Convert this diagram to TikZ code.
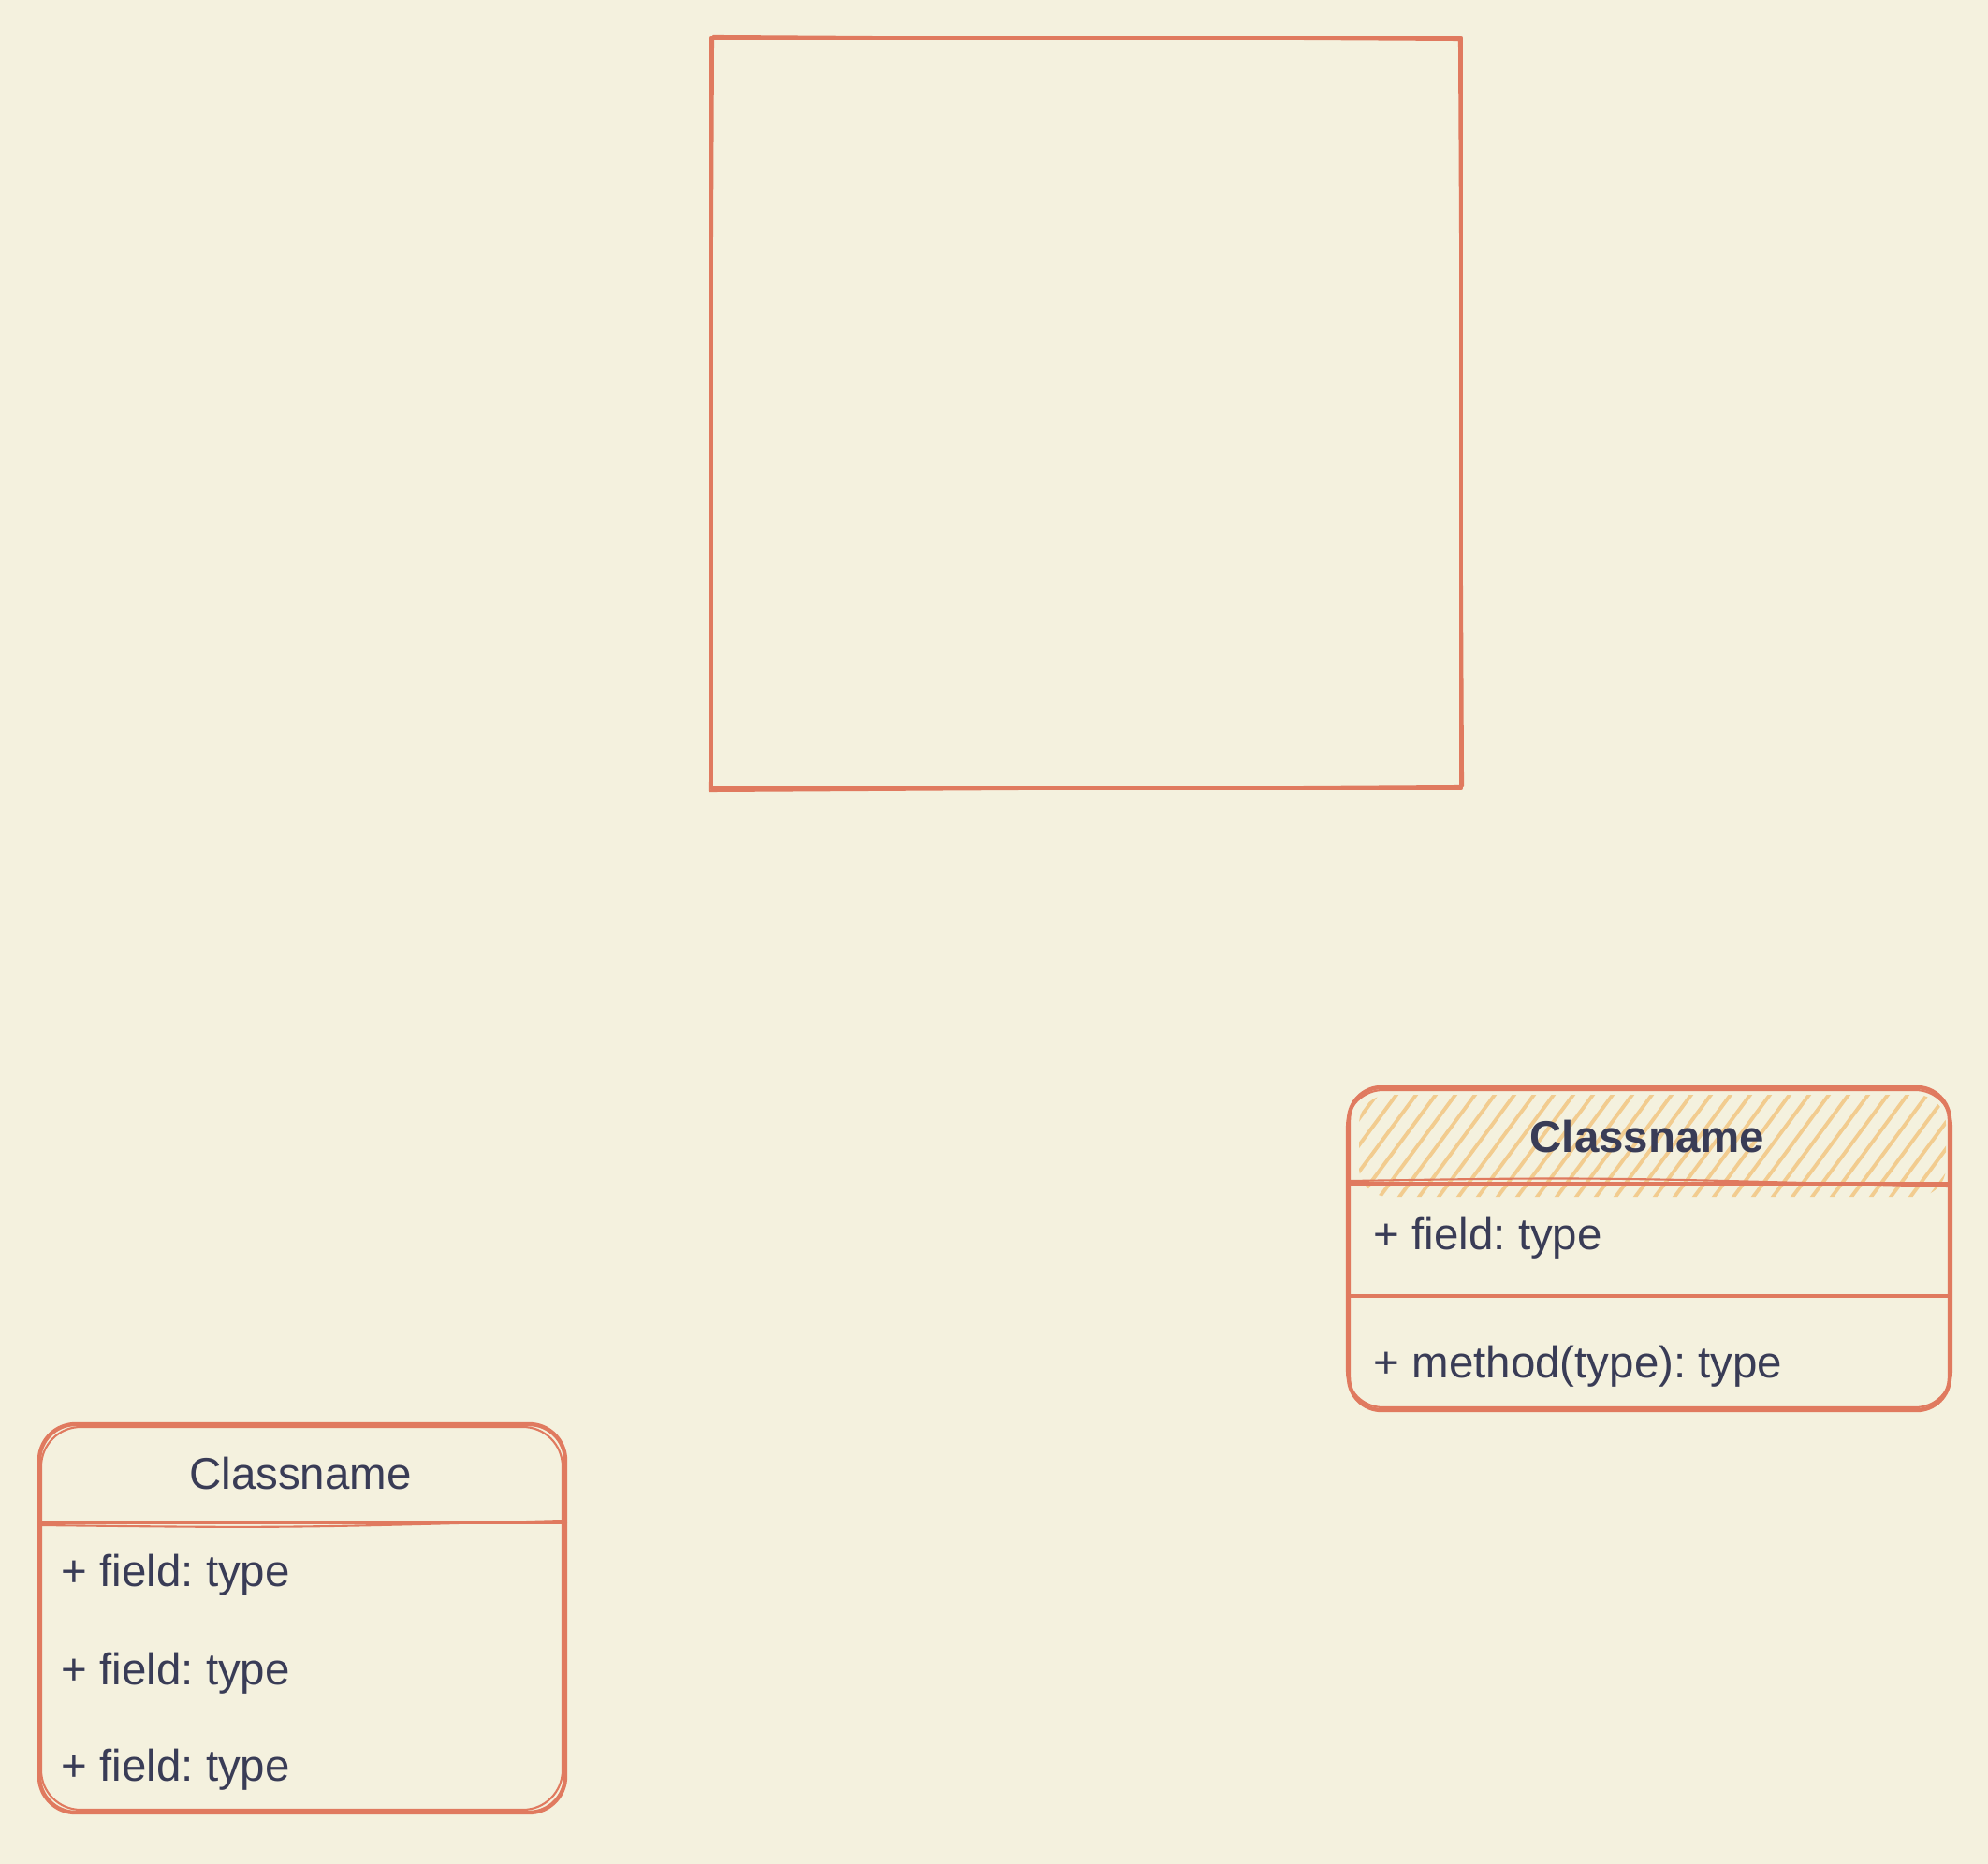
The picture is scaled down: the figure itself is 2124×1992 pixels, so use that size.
\documentclass[tikz,border=0pt]{standalone}
\usepackage{fontspec}
\setmainfont{Liberation Sans}
\usepackage{tikz}
\frenchspacing

\definecolor{paper}{HTML}{F4F1DE}
\definecolor{pen}{HTML}{E07A5F}
\definecolor{ink}{HTML}{393C56}
\definecolor{hatch}{HTML}{F2CC8F}

\begin{document}
\begin{tikzpicture}[x=0.01cm,y=-0.01cm,
  sketch/.style={pen, line width=1.25pt, line join=round, line cap=round},
  sketchthin/.style={pen, line width=0.6pt, line join=round, line cap=round},
  hatchline/.style={hatch, line width=1.1pt, line cap=round},
  classtext/.style={ink, inner sep=0pt, font=\fontsize{13.5}{16}\selectfont}]
\fill[paper] (0,0) rectangle (2124,1992);

% big square
\draw[sketch] (760,41) rectangle (1561,842);
\draw[sketchthin] (762,38) -- (1559,43) -- (1563,840) -- (758,845) -- cycle;

% right class box, hatched header
\begin{scope}
\clip[rounded corners=9pt] (1452,1170) rectangle (2079,1279);
\foreach \i in {0,...,36}
  \draw[hatchline] (1340+\i*21,1290) -- ++(100,-135);
\end{scope}
\draw[sketch, rounded corners=10pt] (1441,1162) rectangle (2083,1507);
\draw[sketchthin, rounded corners=11pt] (1439,1165) rectangle (2085,1504);
\draw[sketch] (1441,1265) -- (2083,1265);
\draw[sketchthin] (1443,1262) .. controls (1700,1258) .. (2081,1268);
\draw[sketch] (1441,1385) -- (2083,1385);
\node[classtext, font=\fontsize{13.5}{16}\selectfont\bfseries, anchor=base] (rname) at (1760,1231) {Classname};
\node[classtext, anchor=base west] (rfield) at (1467,1335) {+ field: type};
\node[classtext, anchor=base west] (rmethod) at (1467,1472) {+ method(type): type};

% left class box
\draw[sketch, rounded corners=11pt] (42,1522) rectangle (604,1937);
\draw[sketchthin, rounded corners=12pt] (44,1525) rectangle (601,1934);
\draw[sketch] (42,1627) -- (604,1627);
\draw[sketchthin] (44,1630) .. controls (300,1633) .. (602,1625);
\node[classtext, anchor=base] (lname) at (321,1591) {Classname};
\node[classtext, anchor=base west] (lfielda) at (65,1695) {+ field: type};
\node[classtext, anchor=base west] (lfieldb) at (65,1800) {+ field: type};
\node[classtext, anchor=base west] (lfieldc) at (65,1903) {+ field: type};

\end{tikzpicture}
\end{document}
